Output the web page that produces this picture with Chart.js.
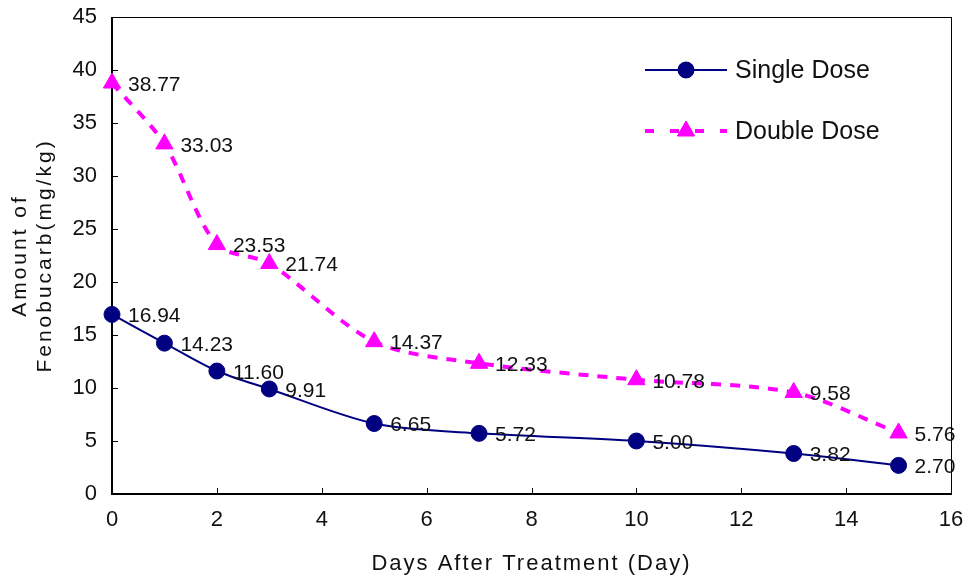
<!DOCTYPE html>
<html>
<head>
<meta charset="utf-8">
<script src="https://cdn.jsdelivr.net/npm/chart.js@4/dist/chart.umd.min.js"></script>
<style>
  html, body { margin: 0; padding: 0; background: #fff; }
  #wrap { width: 967px; height: 578px; }
</style>
</head>
<body>
<div id="wrap"><canvas id="residueChart" width="967" height="578"></canvas></div>
<script>
let days = [0, 1, 2, 3, 5, 7, 10, 13, 15];
let singleDose = [16.94, 14.23, 11.60, 9.91, 6.65, 5.72, 5.00, 3.82, 2.70];
let doubleDose = [38.77, 33.03, 23.53, 21.74, 14.37, 12.33, 10.78, 9.58, 5.76];
let seriesNames = ['Single Dose', 'Double Dose'];
let xTicks = [0, 2, 4, 6, 8, 10, 12, 14, 16];
let yTicks = [0, 5, 10, 15, 20, 25, 30, 35, 40, 45];

const NAVY = '#000080';
const PINK = '#ff00ff';
const labelFont = '21px "Liberation Sans", Arial, sans-serif';

function points(values) {
    return days.map(function (d, i) { return { x: d, y: values[i] }; });
}

// frame around the plot area plus inward tick marks
const framePlugin = {
    id: 'frame',
    beforeDatasetsDraw(chart) {
        const ctx = chart.ctx;
        const a = chart.chartArea;
        const xs = chart.scales.x, ys = chart.scales.y;
        ctx.save();
        ctx.strokeStyle = '#000';
        ctx.lineWidth = 1;
        ctx.strokeRect(a.left + 0.5, a.top + 0.5, a.right - a.left, a.bottom - a.top);
        ctx.lineWidth = 2;
        ctx.beginPath();
        ctx.moveTo(a.left, a.top); ctx.lineTo(a.left, a.bottom); ctx.lineTo(a.right, a.bottom);
        ctx.stroke();
        ctx.lineWidth = 1;
        ctx.beginPath();
        yTicks.forEach(function (v) {
            const y = Math.round(ys.getPixelForValue(v)) + 0.5;
            ctx.moveTo(a.left, y); ctx.lineTo(a.left + 6, y);
        });
        xTicks.forEach(function (v) {
            const x = Math.round(xs.getPixelForValue(v)) + 0.5;
            ctx.moveTo(x, a.bottom); ctx.lineTo(x, a.bottom - 6);
        });
        ctx.stroke();
        ctx.restore();
    }
};

// value labels, axis titles and the legend box
const textPlugin = {
    id: 'texts',
    afterDraw(chart) {
        const ctx = chart.ctx;
        const a = chart.chartArea;
        ctx.save();
        ctx.fillStyle = '#111';
        ctx.font = labelFont;
        ctx.textAlign = 'left';
        ctx.textBaseline = 'middle';
        chart.data.datasets.forEach(function (ds, di) {
            const meta = chart.getDatasetMeta(di);
            meta.data.forEach(function (pt, i) {
                ctx.fillText(ds.data[i].y.toFixed(2), pt.x + 16, pt.y + 2);
            });
        });

        // y title, two lines
        ctx.font = '21px "Liberation Sans", Arial, sans-serif';
        ctx.letterSpacing = '3px';
        ctx.textAlign = 'center';
        const cy = (a.top + a.bottom) / 2;
        ctx.save();
        ctx.translate(20, cy);
        ctx.rotate(-Math.PI / 2);
        ctx.fillText('Amount of', 0, 0);
        ctx.restore();
        ctx.save();
        ctx.translate(45, cy);
        ctx.rotate(-Math.PI / 2);
        ctx.fillText('Fenobucarb(mg/kg)', 0, 0);
        ctx.restore();

        // x title
        ctx.font = '22px "Liberation Sans Narrow", "Liberation Sans", sans-serif';
        ctx.letterSpacing = '2px';
        ctx.fillText('Days After Treatment (Day)', (a.left + a.right) / 2, 564);
        ctx.letterSpacing = '0px';

        // legend
        const rows = [
            { y: 70, color: NAVY, dash: [], width: 2, style: 'circle', r: 8 },
            { y: 131, color: PINK, dash: [9, 16], width: 4, style: 'triangle', r: 10 }
        ];
        rows.forEach(function (row, i) {
            ctx.strokeStyle = row.color;
            ctx.fillStyle = row.color;
            ctx.lineWidth = row.width;
            ctx.setLineDash(row.dash);
            ctx.beginPath();
            ctx.moveTo(645, row.y); ctx.lineTo(727, row.y);
            ctx.stroke();
            ctx.setLineDash([]);
            ctx.lineWidth = 1;
            Chart.helpers.drawPoint(ctx, { pointStyle: row.style, radius: row.r, borderWidth: 1 }, 686, row.y);
            ctx.fill();
            ctx.fillStyle = '#111';
            ctx.font = '25px "Liberation Sans", Arial, sans-serif';
            ctx.textAlign = 'left';
            ctx.fillText(seriesNames[i], 735, row.y + 1);
        });
        ctx.restore();
    }
};

new Chart(document.getElementById('residueChart').getContext('2d'), {
    type: 'line',
    data: {
        datasets: [{
            label: seriesNames[0],
            data: points(singleDose),
            borderColor: NAVY,
            backgroundColor: NAVY,
            borderWidth: 2,
            tension: 0.3,
            pointStyle: 'circle',
            pointRadius: 8,
            pointBorderWidth: 1,
            clip: false
        }, {
            label: seriesNames[1],
            data: points(doubleDose),
            borderColor: PINK,
            backgroundColor: PINK,
            borderWidth: 4,
            borderDash: [10, 9],
            tension: 0.3,
            pointStyle: 'triangle',
            pointRadius: 10,
            pointBorderWidth: 1,
            clip: false
        }]
    },
    options: {
        responsive: false,
        animation: false,
        layout: { padding: { top: 17, right: 16, left: 0, bottom: 0 } },
        plugins: { legend: { display: false }, tooltip: { enabled: false } },
        scales: {
            x: {
                type: 'linear',
                min: 0, max: 16,
                afterFit: function (s) { s.height = 84; s.paddingLeft = 0; s.paddingRight = 0; },
                afterBuildTicks: function (s) { s.ticks = xTicks.map(function (v) { return { value: v }; }); },
                grid: { display: false, drawTicks: false },
                border: { display: false },
                ticks: {
                    padding: 13,
                    color: '#111',
                    font: { family: '"Liberation Sans Narrow", "Liberation Sans", sans-serif', size: 22 }
                }
            },
            y: {
                min: 0, max: 45,
                afterFit: function (s) { s.width = 112; s.paddingTop = 0; s.paddingBottom = 0; },
                afterBuildTicks: function (s) { s.ticks = yTicks.map(function (v) { return { value: v }; }); },
                grid: { display: false, drawTicks: false },
                border: { display: false },
                ticks: {
                    padding: 15,
                    color: '#111',
                    font: { family: '"Liberation Sans", Arial, sans-serif', size: 22 }
                }
            }
        }
    },
    plugins: [framePlugin, textPlugin]
});
</script>
</body>
</html>
